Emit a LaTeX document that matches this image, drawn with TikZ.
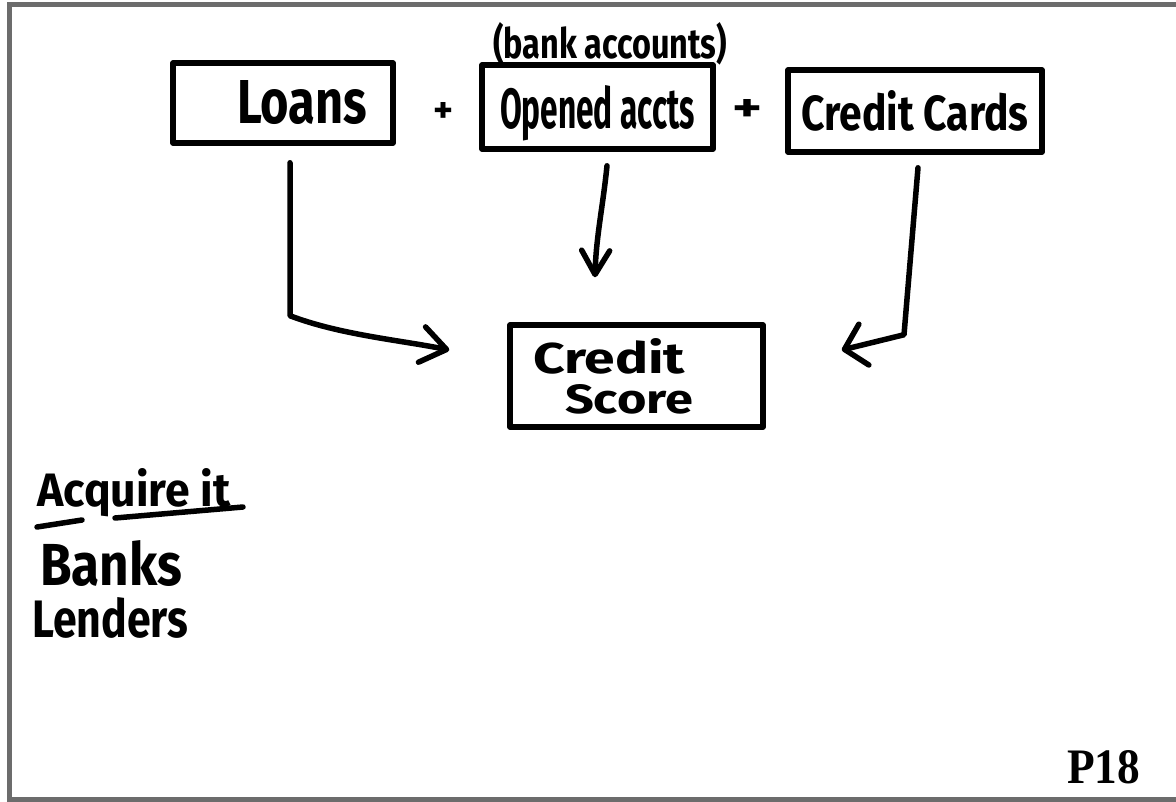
\documentclass[tikz,border=0pt]{standalone}
\usepackage{fontspec}
\usepackage{graphicx}
\newfontfamily\handfont{Fira Sans}
\newfontfamily\pagefont{Liberation Serif}
\usetikzlibrary{arrows.meta,calc}
\definecolor{framegray}{RGB}{108,108,108}
% text stretched to a given width and height (in pt)
\newcommand{\handtext}[3]{\resizebox{#1pt}{#2pt}{#3}}

\begin{document}
\begin{tikzpicture}[x=1pt,y=-1pt,
  ink/.style={line width=5.5pt, line cap=round, line join=round},
  card/.style={draw, ink, rectangle, inner sep=0pt, font=\handfont\bfseries},
  handlabel/.style={inner sep=0pt, font=\handfont\bfseries},
]
\useasboundingbox (0,0) rectangle (1176,801);

% page frame
\draw[framegray, line width=5pt] (1190,4.5) -- (9.5,4.5) -- (9.5,799.5) -- (1190,799.5);

% source boxes
\node[card, minimum width=220pt, minimum height=80pt, text width=220pt, align=left]
  (loans) at (283,103) {\hspace*{64pt}\handtext{130}{43}{Loans}};
\node[card, minimum width=231pt, minimum height=84pt, text depth=0pt]
  (opened) at (597.5,107) {\handtext{195}{43}{Opened accts}};
\node[card, minimum width=254pt, minimum height=82pt]
  (cards) at (915,111) {\handtext{227}{40}{Credit Cards}};

\node[handlabel] (bankacc) at (610,44) {\handtext{234}{36}{(bank accounts)}};
\node[handlabel] (plusa) at (443,112) {\handtext{20}{20}{+}};
\node[handlabel] (plusb) at (747,110) {\handtext{30}{22}{+}};

% result box
\node[card, minimum width=253pt, minimum height=102pt, text width=253pt, align=left,
  font=\handfont\bfseries\fontsize{30}{40}\selectfont]
  (score) at (636.5,376)
  {\hspace*{23pt}\handtext{152}{35}{Credit}\\\hspace*{55pt}\handtext{128}{29}{Score}};

% connectors
\draw[ink, -{Straight Barb[round,length=25pt,width=36pt]}]
  ($(loans.south)+(7,17)$) -- ($(loans.south)+(7,170)$)
  .. controls +(50,19) and +(-50,-10) .. ($(score.west)+(-58,-26)$);
\draw[ink, -{Straight Barb[round,length=24pt,width=28pt]}]
  ($(opened.south)+(9.5,14)$) .. controls +(-4,40) and +(1,-40) .. ($(score.north)+(-41.5,-45)$);
\draw[ink, -{Straight Barb[round,length=20pt,width=42pt]}]
  ($(cards.south)+(3,13)$) -- ($(cards.south)+(-11,180)$) -- ($(score.east)+(76,-26)$);

% notes on the left
\node[handlabel, anchor=base west] (acq) at (37,506) {\handtext{193}{38}{Acquire it}};
\draw[ink] ($(acq.base west)+(0,21)$) -- ($(acq.base west)+(45,14)$);
\draw[ink] ($(acq.base west)+(78,12)$) -- ($(acq.base west)+(206,1)$);
\node[handlabel, anchor=base west] (banks) at (40,585) {\handtext{142}{45}{Banks}};
\node[handlabel, anchor=base west] (lenders) at (32,637) {\handtext{156}{40}{Lenders}};

% page number
\node[inner sep=0pt, anchor=base west, font=\pagefont\bfseries] (page) at (1067,783)
  {\resizebox{73pt}{33pt}{P18}};
\end{tikzpicture}
\end{document}
